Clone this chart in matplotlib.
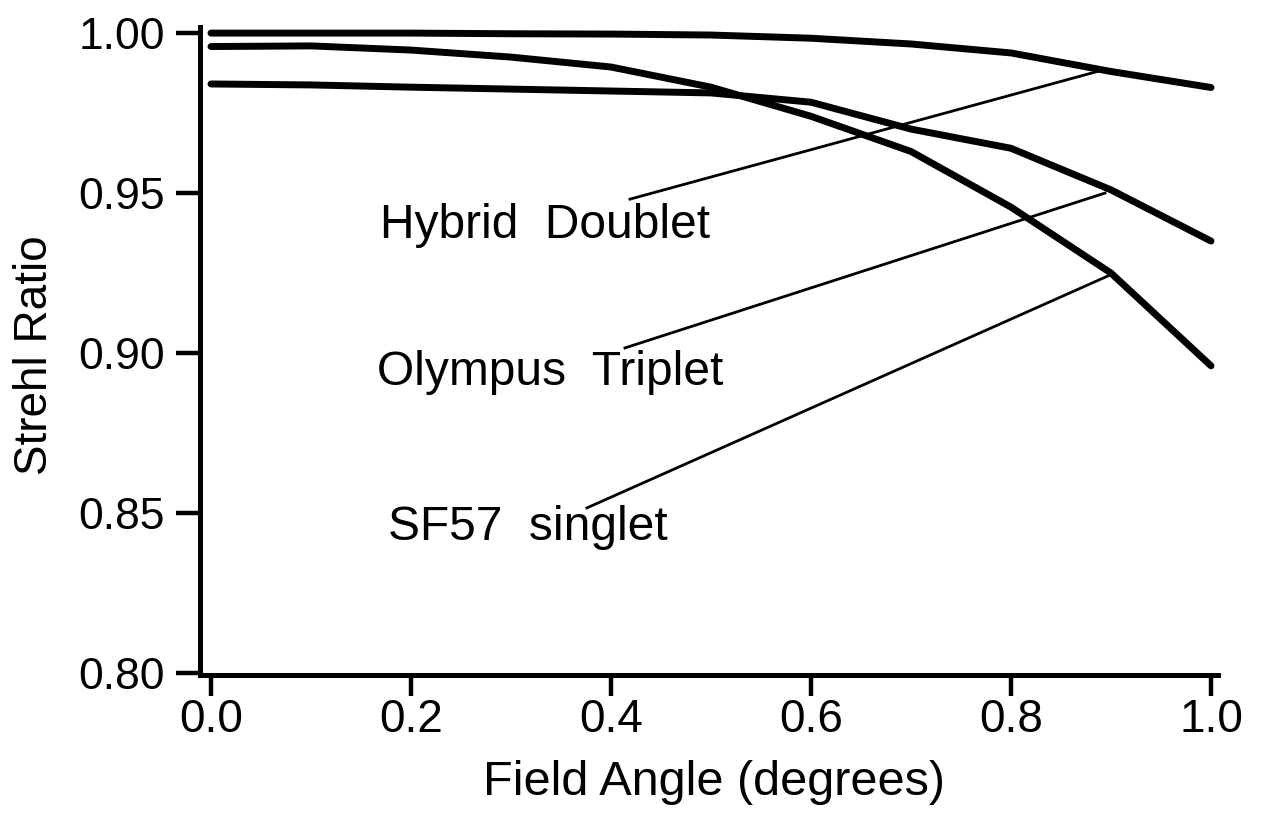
import matplotlib
matplotlib.use("Agg")
import matplotlib.pyplot as plt

plt.rcParams['font.family'] = ['Liberation Sans', 'DejaVu Sans']

# field angle (degrees)
field_angle = [0.0, 0.1, 0.2, 0.3, 0.4, 0.5, 0.6, 0.7, 0.8, 0.9, 1.0]

# Strehl ratio
hybrid_doublet = [1.000, 1.000, 1.000, 0.9998, 0.9997, 0.9994, 0.9984, 0.9966, 0.9938, 0.988, 0.983]
olympus_triplet = [0.9841, 0.9838, 0.9831, 0.9825, 0.9819, 0.9813, 0.9784, 0.970, 0.964, 0.951, 0.935]
sf57_singlet = [0.9958, 0.9960, 0.9947, 0.9925, 0.9894, 0.9831, 0.974, 0.963, 0.9456, 0.925, 0.896]

labels = ["Hybrid  Doublet", "Olympus  Triplet", "SF57  singlet"]
# label anchor (left, baseline) and leader line end points
label_pos = [(0.169, 0.9359), (0.166, 0.890), (0.177, 0.8416)]
leader_start = [(0.419, 0.9481), (0.414, 0.9016), (0.376, 0.8516)]
leader_end = [(0.891, 0.9884), (0.894, 0.950), (0.897, 0.9241)]

x_ticks = [0.0, 0.2, 0.4, 0.6, 0.8, 1.0]
y_ticks = [0.80, 0.85, 0.90, 0.95, 1.00]

fig = plt.figure(figsize=(12.64, 8.14), dpi=100)
ax = fig.add_axes([0.1582, 0.1713, 0.8054, 0.7955])

for series in (hybrid_doublet, olympus_triplet, sf57_singlet):
    ax.plot(field_angle, series, color='black', lw=5,
            solid_capstyle='round', solid_joinstyle='round')

for text, (tx, ty), (x0, y0), (x1, y1) in zip(labels, label_pos, leader_start, leader_end):
    ax.plot([x0, x1], [y0, y1], color='black', lw=2)
    ax.text(tx, ty, text, fontsize=34.5, ha='left', va='baseline')

ax.set_xlim(-0.011, 1.007)
ax.set_ylim(0.7995, 1.0019)
ax.set_xticks(x_ticks)
ax.set_xticklabels([f"{v:.1f}" for v in x_ticks])
ax.set_yticks(y_ticks)
ax.set_yticklabels([f"{v:.2f}" for v in y_ticks])

for side in ('top', 'right'):
    ax.spines[side].set_visible(False)
for side in ('left', 'bottom'):
    ax.spines[side].set_linewidth(3.6)

ax.tick_params(axis='y', direction='out', length=17, width=3.2, pad=8, labelsize=32)
ax.tick_params(axis='x', direction='out', length=15, width=3.2, pad=2, labelsize=33)

fig.text(35 / 1264, 1 - 355 / 814, "Strehl Ratio", rotation=90,
         fontsize=33, ha='center', va='center')
fig.text(714 / 1264, 1 - 795 / 814, "Field Angle (degrees)",
         fontsize=35, ha='center', va='baseline')

fig.savefig("out.png", dpi=100)
